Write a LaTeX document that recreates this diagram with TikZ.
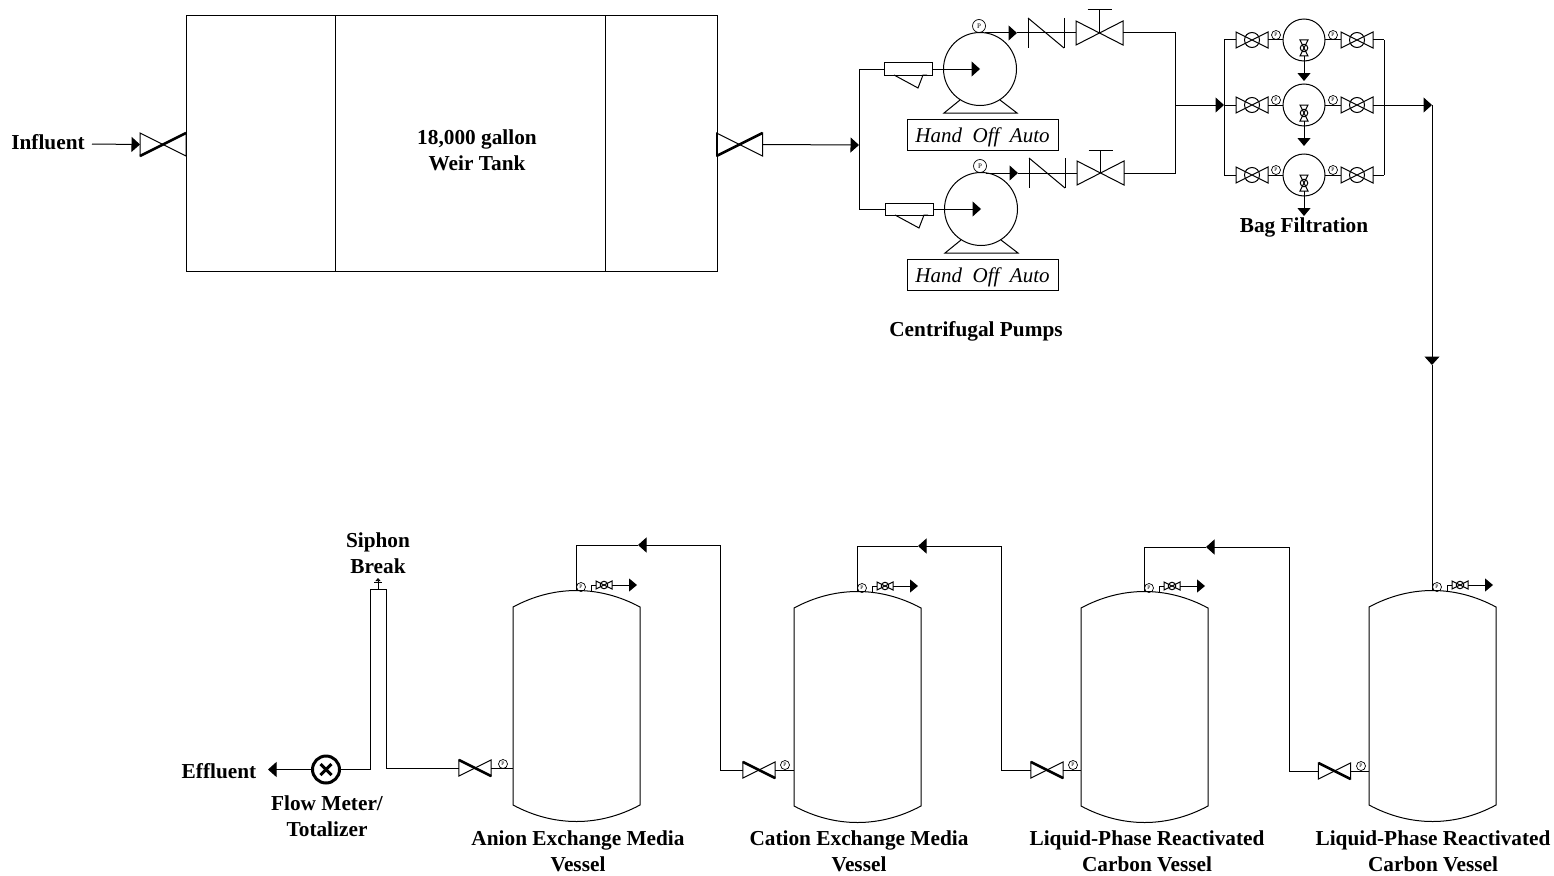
\documentclass[tikz,border=0pt]{standalone}
\usepackage{fontspec}
\setmainfont{Liberation Serif}
\usetikzlibrary{arrows.meta}
\tikzset{
  pipe/.style={line width=1pt},
  flowtip/.style={-{Triangle[length=8.5pt,width=15pt]}},
  bagtip/.style={-{Triangle[length=8pt,width=13pt]}},
  gauge/.style={circle,draw,line width=.7pt,inner sep=0pt,minimum size=9pt,font=\fontsize{5.5}{5}\selectfont},
  biggauge/.style={gauge,minimum size=13pt,font=\fontsize{7}{6}\selectfont},
  caption/.style={align=center,font=\bfseries\fontsize{21.3}{26}\selectfont},
  handbox/.style={draw,line width=.9pt,minimum width=151pt,minimum height=31pt,inner sep=0pt,text height=15pt,text depth=0pt,font=\itshape\fontsize{21}{24}\selectfont},
  pics/gatevalve/.style={code={
    \draw[pipe] (-23,-11.5) -- (-23,11.5) -- (23,-11.5) -- (23,11.5) -- cycle;
    \draw[line width=2.6pt] (-23,11.5) -- (23,-11.5);
    \coordinate (-l) at (-23,0);
    \coordinate (-r) at (23,0);
  }},
  pics/ballvalve/.style={code={
    \draw[pipe] (-16,-8) -- (-16,8) -- (16,-8) -- (16,8) -- cycle;
    \draw[pipe] (0,0) circle[radius=7.5];
    \coordinate (-l) at (-16,0);
    \coordinate (-r) at (16,0);
  }},
  pics/pumpset/.style={code={
    % strainer
    \draw[pipe] (-96,-6) rectangle (-48,6);
    \draw[pipe] (-86,6) -- (-62,19) -- (-57,6) -- (-53,6);
    \draw[pipe,flowtip] (-48,0) -- (0,0);
    % pump and feet
    \draw[pipe] (0,0) circle[radius=36.5];
    \draw[pipe] (-20,31) -- (-36,44) -- (37,44) -- (20,31);
    \node[biggauge] (-g) at (-1,-43) {P};
    % discharge
    \draw[pipe,flowtip] (5,-36) -- (37,-36);
    \draw[pipe] (37,-36) -- (96,-36);
    \draw[pipe] (48,-51) -- (48,-21);
    \draw[pipe] (48,-51) -- (84,-21);
    \draw[pipe] (84,-51) -- (84,-21);
    \draw[pipe] (96,-48) -- (96,-24) -- (143,-48) -- (143,-24) -- cycle;
    \draw[pipe] (119.5,-36) -- (119.5,-59);
    \draw[pipe] (107.5,-59) -- (131.5,-59);
    \coordinate (-in) at (-96,0);
    \coordinate (-out) at (143,-36);
  }},
  pics/bagrow/.style={code={
    \pic (-a) at (-52,0) {ballvalve};
    \pic (-b) at (53,0) {ballvalve};
    \coordinate (-in) at (-80,0);
    \coordinate (-out) at (80,0);
    \draw[pipe] (-in) -- (-a-l);
    \draw[pipe] (-a-r) -- (-21,0);
    \draw[pipe] (21,0) -- (-b-l);
    \draw[pipe] (-b-r) -- (-out);
    \draw[pipe] (0,0) circle[radius=21];
    \node[gauge] (-g1) at (-28,-5) {P};
    \node[gauge] (-g2) at (29,-5) {P};
    \pic[scale=.5,rotate=90] (-c) at (0,8) {ballvalve};
    \draw[pipe,bagtip] (0,16) -- (0,41);
  }},
  pics/vesselset/.style={code={
    \draw[pipe] (0,-164) .. controls (41,-186) and (86,-186) .. (127,-164)
      -- (127,34) .. controls (86,56) and (41,56) .. (0,34) -- cycle;
    \coordinate (-in) at (0,0);
    \coordinate (-out) at (63,-180);
    \node[gauge] (-g) at (68,-184) {P};
    \pic[scale=.5] (-v) at (91,-186) {ballvalve};
    \draw[pipe] (78,-179) -- (78,-186) -- (-v-l);
    \draw[pipe,bagtip] (-v-r) -- (124,-186);
  }},
}
\begin{document}
\begin{tikzpicture}[x=1pt,y=-1pt]
  \useasboundingbox (0,0) rectangle (1554,875);

  % weir tank
  \node[draw,pipe,minimum width=531pt,minimum height=255pt,inner sep=0pt] (tank) at (451.5,143.5) {};
  \draw[pipe] (335,16) -- (335,271);
  \draw[pipe] (605,16) -- (605,271);
  \node[caption] (weir) at (477,150) {18,000 gallon\\Weir Tank};

  \node[caption] (influent) at (48,142) {Influent};
  \coordinate (inStart) at (92,144);
  \pic (vIn) at (163,144.5) {gatevalve};
  \draw[pipe,flowtip] (inStart) -- (vIn-l);

  \pic (vOut) at (739.5,144.5) {gatevalve};
  \coordinate (feedTip) at (859,145);
  \draw[pipe,flowtip] (vOut-r) -- (feedTip);

  % centrifugal pumps
  \pic (pT) at (980,69) {pumpset};
  \pic (pB) at (981,209) {pumpset};
  \draw[pipe] (pT-in) -- (pT-in -| feedTip) -- (pB-in -| feedTip) -- (pB-in);
  \node[handbox] (handT) at (982.5,134.5) {Hand\ \ Off\ \ Auto};
  \node[handbox] (handB) at (982.5,274.5) {Hand\ \ Off\ \ Auto};
  \node[caption] (pumps) at (976,331) {Centrifugal Pumps};

  \coordinate (hdrT) at (1175,33);
  \coordinate (hdrM) at (1175,105);
  \coordinate (hdrB) at (1175,173);
  \draw[pipe] (pT-out) -- (hdrT) -- (hdrB) -- (pB-out);

  % bag filtration
  \pic (bT) at (1304,40) {bagrow};
  \pic (bM) at (1304,105) {bagrow};
  \pic (bB) at (1304,175) {bagrow};
  \draw[pipe] (bT-in) -- (bB-in);
  \draw[pipe] (bT-out) -- (bB-out);
  \draw[pipe,flowtip] (hdrM) -- (bM-in);
  \node[caption] (bags) at (1304,227) {Bag Filtration};

  \coordinate (turn) at (1432,105);
  \coordinate (dropTip) at (1432,365);
  \draw[pipe,flowtip] (bM-out) -- (turn);
  \draw[pipe,flowtip] (turn) -- (dropTip);

  % vessels
  \pic (V4) at (1369,771) {vesselset};
  \pic (V3) at (1081,772) {vesselset};
  \pic (V2) at (794,772) {vesselset};
  \pic (V1) at (513,771) {vesselset};
  \draw[pipe] (dropTip) -- (V4-out);

  \pic[scale=.7,yscale=-1] (vD) at (1334.5,771) {gatevalve};
  \node[gauge] (gD) at (1361,766) {P};
  \draw[pipe] (vD-r) -- (vD-r -| V4-in);
  \coordinate (topC) at (1289,547);
  \coordinate (tipC) at (1206,547);
  \draw[pipe] (vD-l) -- (vD-l -| topC) -- (topC);
  \draw[pipe,flowtip] (topC) -- (tipC);
  \draw[pipe] (tipC) -- (tipC -| V3-out) -- (V3-out);

  \pic[scale=.7,yscale=-1] (vC) at (1047,770) {gatevalve};
  \node[gauge] (gC) at (1073,765) {P};
  \draw[pipe] (vC-r) -- (vC-r -| V3-in);
  \coordinate (topB) at (1001,546);
  \coordinate (tipB) at (918,546);
  \draw[pipe] (vC-l) -- (vC-l -| topB) -- (topB);
  \draw[pipe,flowtip] (topB) -- (tipB);
  \draw[pipe] (tipB) -- (tipB -| V2-out) -- (V2-out);

  \pic[scale=.7,yscale=-1] (vB) at (759,770) {gatevalve};
  \node[gauge] (gB) at (785,765) {P};
  \draw[pipe] (vB-r) -- (vB-r -| V2-in);
  \coordinate (topA) at (720,545);
  \coordinate (tipA) at (638,545);
  \draw[pipe] (vB-l) -- (vB-l -| topA) -- (topA);
  \draw[pipe,flowtip] (topA) -- (tipA);
  \draw[pipe] (tipA) -- (tipA -| V1-out) -- (V1-out);

  \pic[scale=.7,yscale=-1] (vA) at (475,768) {gatevalve};
  \node[gauge] (gA) at (503,764) {P};
  \draw[pipe] (vA-r) -- (vA-r -| V1-in);

  % siphon break and flow meter
  \node[circle,draw,line width=3pt,minimum size=27pt,inner sep=0pt] (fm) at (326,769.5) {};
  \draw[line width=3pt] ([shift={(-5.5,-5.5)}]fm.center) -- ([shift={(5.5,5.5)}]fm.center);
  \draw[line width=3pt] ([shift={(-5.5,5.5)}]fm.center) -- ([shift={(5.5,-5.5)}]fm.center);
  \coordinate (sb1) at (370,769.5);
  \coordinate (sb2) at (370,589);
  \coordinate (sb3) at (386,589);
  \coordinate (sb4) at (386,768);
  \coordinate (sbTop) at (378,589);
  \coordinate (sbTip) at (378,578);
  \draw[pipe] (vA-l) -- (sb4) -- (sb3) -- (sb2) -- (sb1) -- (fm);
  \draw[line width=.8pt,-{Triangle[length=3pt,width=5pt]}] (sbTop) -- (sbTip);
  \draw[line width=.8pt] (374,582) -- (382,582);
  \coordinate (effTip) at (268,769.5);
  \draw[pipe,flowtip] (fm) -- (effTip);

  \node[caption] (siphon) at (378,553) {Siphon\\Break};
  \node[caption] (effluent) at (219,771) {Effluent};
  \node[caption] (meter) at (327,816.5) {Flow Meter/\\Totalizer};
  \node[caption] (capA) at (578,851.5) {Anion Exchange Media\\Vessel};
  \node[caption] (capB) at (859,851.5) {Cation Exchange Media\\Vessel};
  \node[caption] (capC) at (1147,851.5) {Liquid-Phase Reactivated\\Carbon Vessel};
  \node[caption] (capD) at (1433,851.5) {Liquid-Phase Reactivated\\Carbon Vessel};
\end{tikzpicture}
\end{document}
